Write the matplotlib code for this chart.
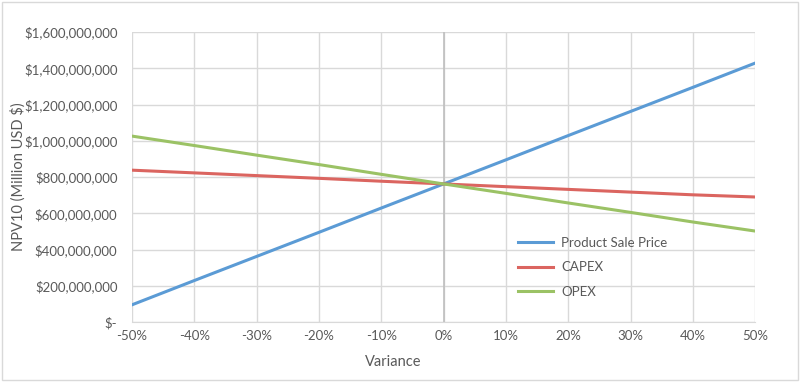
import matplotlib.pyplot as plt
import matplotlib.ticker as mticker
from matplotlib.patches import Rectangle

# Sensitivity data (variance vs NPV10)
variance = [-0.5, -0.4, -0.3, -0.2, -0.1, 0.0, 0.1, 0.2, 0.3, 0.4, 0.5]
sale_price = [95e6, 229e6, 362e6, 495e6, 629e6, 762e6, 895e6, 1029e6, 1162e6, 1295e6, 1429e6]
capex = [838e6, 823e6, 808e6, 793e6, 777e6, 762e6, 747e6, 732e6, 717e6, 702e6, 690e6]
opex = [1026e6, 974e6, 921e6, 869e6, 815e6, 762e6, 710e6, 657e6, 605e6, 552e6, 502e6]

plt.rcParams['font.family'] = ['Lato', 'DejaVu Sans']
grey = '#595959'

fig = plt.figure(figsize=(8, 3.82), dpi=100)
ax = fig.add_axes([0.165, 0.157, 0.779, 0.759])

ax.plot(variance, sale_price, color='#5B9BD5', lw=2.2, label='Product Sale Price')
ax.plot(variance, capex, color='#DB6560', lw=2.2, label='CAPEX')
ax.plot(variance, opex, color='#9BC265', lw=2.2, label='OPEX')

ax.set_xlim(-0.5, 0.5)
ax.set_ylim(0, 1.6e9)
ax.set_xticks([v / 10 for v in range(-5, 6)])
ax.set_yticks([v * 2e8 for v in range(0, 9)])
ax.xaxis.set_major_formatter(mticker.FuncFormatter(lambda v, p: f'{round(v * 100):d}%'))
ax.yaxis.set_major_formatter(mticker.FuncFormatter(lambda v, p: '$-' if v == 0 else f'${v:,.0f}'))

ax.grid(True, color='#d9d9d9', lw=1)
ax.set_axisbelow(True)
ax.axvline(0, color='#bfbfbf', lw=1.2, zorder=1)
for s in ['top', 'right', 'left']:
    ax.spines[s].set_visible(False)
ax.spines['bottom'].set_color('#d9d9d9')
ax.tick_params(length=0, colors=grey, labelsize=9.5)
ax.tick_params(axis='x', pad=6)
ax.tick_params(axis='y', pad=10.5)

fig.text(0.491, 0.052, 'Variance', ha='center', va='center', color=grey, fontsize=10.5)
fig.text(0.022, 0.537, 'NPV10 (Million USD $)', ha='center', va='center', rotation=90,
         color=grey, fontsize=10.5)

leg = ax.legend(loc='upper left', bbox_to_anchor=(0.6, 0.335), frameon=False,
                fontsize=9.5, labelcolor=grey, handlelength=2.7, handletextpad=0.6,
                labelspacing=0.95)

fig.add_artist(Rectangle((0.003, 0.005), 0.994, 0.99, transform=fig.transFigure,
                         fill=False, ec='#d9d9d9', lw=1))

fig.savefig('out.png', dpi=100)
